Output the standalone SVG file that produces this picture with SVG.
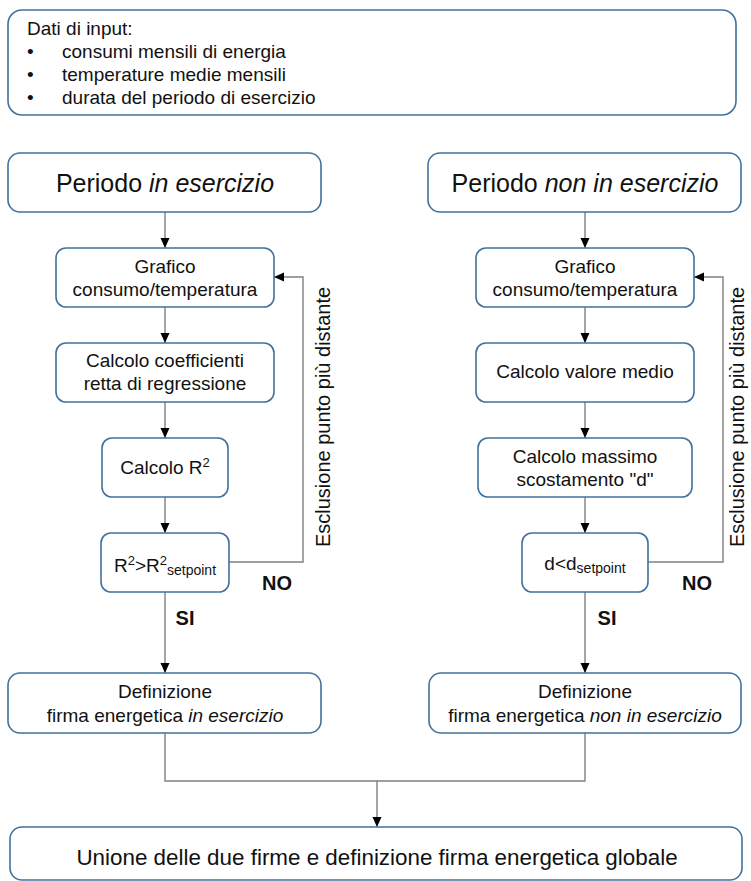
<svg xmlns="http://www.w3.org/2000/svg" width="751" height="881" viewBox="0 0 751 881">
<style>
.box{fill:#fff;stroke:#41719C;stroke-width:1.6}
.t{font-family:"Liberation Sans",Arial,sans-serif;font-size:19px;fill:#111;text-anchor:middle}
.tl{font-family:"Liberation Sans",Arial,sans-serif;font-size:19px;fill:#111}
.big{font-size:25px}
.huge{font-size:22.4px}
.rot{font-size:20px}
.lbl{font-family:"Liberation Sans",Arial,sans-serif;font-size:20px;font-weight:bold;fill:#111;text-anchor:middle}
.c{fill:none;stroke:#808080;stroke-width:1.4}
.ca{fill:none;stroke:#808080;stroke-width:1.4;marker-end:url(#ah)}
</style>
<defs>
<marker id="ah" markerUnits="userSpaceOnUse" markerWidth="10" markerHeight="10" refX="10" refY="5" orient="auto">
<path d="M0,0.5 L10,5 L0,9.5 Z" fill="#000"/>
</marker>
</defs>
<rect width="751" height="881" fill="#fff"/>

<g id="connectors">
<path class="ca" d="M165,212 V248"/>
<path class="ca" d="M165,307 V343"/>
<path class="ca" d="M165,402 V438"/>
<path class="ca" d="M165,497 V533"/>
<path class="ca" d="M165,592 V673"/>
<path class="ca" d="M229,562 H303 V277 H274"/>
<path class="ca" d="M585,212 V248"/>
<path class="ca" d="M585,307 V343"/>
<path class="ca" d="M585,402 V438"/>
<path class="ca" d="M585,497 V533"/>
<path class="ca" d="M585,592 V673"/>
<path class="ca" d="M648,562 H723 V277 H694"/>
<path class="c" d="M165,733 V781 H585 V733"/>
<path class="ca" d="M377,781 V827"/>
</g>

<g id="input">
<rect class="box" x="8" y="10" width="728" height="105" rx="14"/>
<text class="tl" x="27" y="35">Dati di input:</text>
<text class="tl" x="27" y="58">•</text>
<text class="tl" x="62" y="58">consumi mensili di energia</text>
<text class="tl" x="27" y="81">•</text>
<text class="tl" x="62" y="81">temperature medie mensili</text>
<text class="tl" x="27" y="104">•</text>
<text class="tl" x="62" y="104">durata del periodo di esercizio</text>
</g>

<g id="periodo-in">
<rect class="box" x="8" y="153" width="313" height="59" rx="12"/>
<text class="t big" x="165" y="192">Periodo <tspan font-style="italic">in esercizio</tspan></text>
</g>
<g id="grafico-in">
<rect class="box" x="56" y="248" width="218" height="59" rx="10"/>
<text class="t" x="165" y="273">Grafico</text>
<text class="t" x="165" y="296">consumo/temperatura</text>
</g>
<g id="coeff">
<rect class="box" x="56" y="343" width="218" height="59" rx="10"/>
<text class="t" x="165" y="367">Calcolo coefficienti</text>
<text class="t" x="165" y="390">retta di regressione</text>
</g>
<g id="r2">
<rect class="box" x="102" y="438" width="126" height="59" rx="10"/>
<text class="t" x="165" y="474">Calcolo R<tspan font-size="13" dy="-7">2</tspan></text>
</g>
<g id="test-r2">
<rect class="box" x="101" y="533" width="128" height="59" rx="10"/>
<text class="t" x="165" y="572">R<tspan font-size="13" dy="-7">2</tspan><tspan dy="7">&gt;R</tspan><tspan font-size="13" dy="-7">2</tspan><tspan font-size="14" dy="10">setpoint</tspan></text>
</g>
<g id="esclusione-in">
<text class="t rot" transform="translate(330,417) rotate(-90)">Esclusione punto più distante</text>
</g>
<text class="lbl" x="277" y="590">NO</text>
<text class="lbl" x="185" y="625">SI</text>
<g id="def-in">
<rect class="box" x="8" y="673" width="313" height="60" rx="12"/>
<text class="t" x="165" y="698">Definizione</text>
<text class="t" x="165" y="722">firma energetica <tspan font-style="italic">in esercizio</tspan></text>
</g>

<g id="periodo-non">
<rect class="box" x="428" y="153" width="313" height="59" rx="12"/>
<text class="t big" x="585" y="192">Periodo <tspan font-style="italic">non in esercizio</tspan></text>
</g>
<g id="grafico-non">
<rect class="box" x="476" y="248" width="218" height="59" rx="10"/>
<text class="t" x="585" y="273">Grafico</text>
<text class="t" x="585" y="296">consumo/temperatura</text>
</g>
<g id="medio">
<rect class="box" x="476" y="343" width="218" height="59" rx="10"/>
<text class="t" x="585" y="378">Calcolo valore medio</text>
</g>
<g id="massimo">
<rect class="box" x="478" y="438" width="214" height="59" rx="10"/>
<text class="t" x="585" y="463">Calcolo massimo</text>
<text class="t" x="585" y="486">scostamento "d"</text>
</g>
<g id="test-d">
<rect class="box" x="522" y="533" width="126" height="59" rx="10"/>
<text class="t" x="585" y="570">d&lt;d<tspan font-size="14" dy="3">setpoint</tspan></text>
</g>
<g id="esclusione-non">
<text class="t rot" transform="translate(744,417) rotate(-90)">Esclusione punto più distante</text>
</g>
<text class="lbl" x="697" y="590">NO</text>
<text class="lbl" x="607" y="625">SI</text>
<g id="def-non">
<rect class="box" x="429" y="673" width="312" height="60" rx="12"/>
<text class="t" x="585" y="698">Definizione</text>
<text class="t" x="585" y="722">firma energetica <tspan font-style="italic">non in esercizio</tspan></text>
</g>

<g id="unione">
<rect class="box" x="10" y="827" width="732" height="53" rx="12"/>
<text class="t huge" x="377" y="865">Unione delle due firme e definizione firma energetica globale</text>
</g>
</svg>
